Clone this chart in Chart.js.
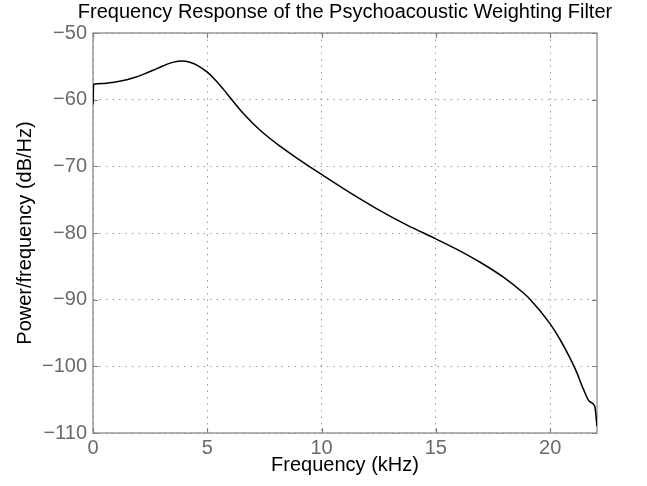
<!DOCTYPE html>
<html><head><meta charset="utf-8">
<script src="https://cdn.jsdelivr.net/npm/chart.js@4.4.1/dist/chart.umd.min.js"></script>
<style>html,body{margin:0;padding:0;background:#fff;}#wrap{width:647px;height:486px;}</style>
</head><body><div id="wrap"><canvas id="c" width="647" height="486"></canvas></div>
<script>
const chartTitle = 'Frequency Response of the Psychoacoustic Weighting Filter';
const xLabel = 'Frequency (kHz)';
const yLabel = 'Power/frequency (dB/Hz)';

const frequencyKHz = [0, 0.03, 0.4, 0.74, 1.1, 1.48, 1.85, 2.2, 2.6, 2.93, 3.25, 3.52, 3.89, 4.24, 4.6, 5.0, 5.35, 5.7, 6.02, 6.57, 7.3, 8.18, 9.05, 9.42, 10.0, 11.24, 12.4, 13.72, 15.0, 15.9, 16.92, 17.94, 18.82, 19.11, 20.0, 20.42, 20.86, 21.15, 21.44, 21.73, 21.95, 22.05];
const powerDb = [-60.7, -57.7, -57.58, -57.45, -57.26, -57.0, -56.64, -56.2, -55.63, -55.13, -54.67, -54.37, -54.2, -54.4, -54.92, -55.88, -57.04, -58.42, -59.78, -62.04, -64.56, -66.98, -69.07, -69.92, -71.22, -73.95, -76.33, -78.77, -80.88, -82.41, -84.35, -86.59, -88.97, -89.9, -93.64, -95.9, -98.7, -100.8, -103.3, -105.3, -106.0, -109.0];

const xTicks = [0, 5, 10, 15, 20];
const yTicks = [-110, -100, -90, -80, -70, -60, -50];
const xRange = [0, 22.05];
const yRange = [-110, -50];

const FONT = '"Liberation Sans", Arial, Helvetica, sans-serif';
const AXIS_COLOR = '#808080';
const TICK_TEXT = '#6a6a6a';

const boxPlugin = {
  id: 'matlabBox',
  beforeDatasetsDraw(chart) {
    const {ctx, chartArea: a, scales} = chart;
    ctx.save();
    ctx.strokeStyle = AXIS_COLOR;
    ctx.lineWidth = 1.2;
    ctx.beginPath();
    xTicks.forEach(v => {
      const p = Math.round(scales.x.getPixelForValue(v)) + 0.5;
      ctx.moveTo(p, a.bottom); ctx.lineTo(p, a.bottom - 5);
      ctx.moveTo(p, a.top); ctx.lineTo(p, a.top + 5);
    });
    yTicks.forEach(v => {
      const p = Math.round(scales.y.getPixelForValue(v)) + 0.5;
      ctx.moveTo(a.left, p); ctx.lineTo(a.left + 5, p);
      ctx.moveTo(a.right, p); ctx.lineTo(a.right - 5, p);
    });
    ctx.stroke();
    ctx.strokeRect(a.left, a.top, a.right - a.left, a.bottom - a.top);
    ctx.restore();
  }
};

const titlePlugin = {
  id: 'axesTitle',
  afterDraw(chart) {
    const {ctx, chartArea: a} = chart;
    ctx.save();
    ctx.fillStyle = '#000000';
    ctx.font = '20px ' + FONT;
    ctx.textAlign = 'center';
    ctx.textBaseline = 'alphabetic';
    ctx.fillText(chartTitle, (a.left + a.right) / 2, 17.5);
    ctx.restore();
  }
};

new Chart(document.getElementById('c'), {
  type: 'line',
  data: {
    datasets: [{
      data: frequencyKHz.map((x, i) => ({x: x, y: powerDb[i]})),
      borderColor: '#000000',
      borderWidth: 1.5,
      pointRadius: 0,
      cubicInterpolationMode: 'monotone',
      fill: false
    }]
  },
  options: {
    responsive: false,
    animation: false,
    devicePixelRatio: 1,
    layout: {padding: {left: 0, right: 50, top: 33, bottom: 0}},
    plugins: {
      legend: {display: false},
      tooltip: {enabled: false},
      title: {display: false}
    },
    scales: {
      x: {
        type: 'linear',
        min: xRange[0],
        max: xRange[1],
        afterBuildTicks: s => { s.ticks = xTicks.map(v => ({value: v})); },
        afterFit: s => { s.height = 53; },
        grid: {color: 'rgba(120,120,120,0.75)', lineWidth: 1, drawTicks: false},
        border: {display: false, dash: [1.5, 5]},
        ticks: {color: TICK_TEXT, padding: 3, font: {family: FONT, size: 20}, maxRotation: 0},
        title: {display: true, text: xLabel, color: '#000000', font: {family: FONT, size: 20}, padding: {top: 0, bottom: 9}}
      },
      y: {
        type: 'linear',
        min: yRange[0],
        max: yRange[1],
        afterBuildTicks: s => { s.ticks = yTicks.map(v => ({value: v})); },
        afterFit: s => { s.width = 93; },
        grid: {color: 'rgba(120,120,120,0.75)', lineWidth: 1, drawTicks: false},
        border: {display: false, dash: [1.5, 5]},
        ticks: {color: TICK_TEXT, padding: 6, font: {family: FONT, size: 20},
          callback: v => String(v).replace('-', '\u2212')},
        title: {display: true, text: yLabel, color: '#000000', font: {family: FONT, size: 20}, padding: {top: 13, bottom: 0}}
      }
    }
  },
  plugins: [boxPlugin, titlePlugin]
});
</script>
</body></html>
